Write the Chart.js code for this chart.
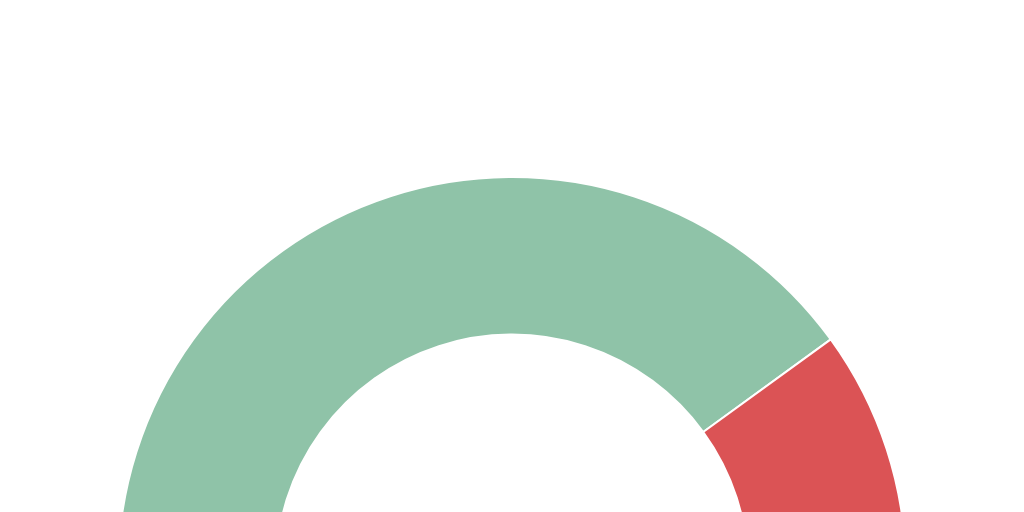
<!DOCTYPE html>
<html>
<head>
<meta charset="utf-8">
<script src="https://cdn.jsdelivr.net/npm/chart.js@4"></script>
<style>
  html, body { margin: 0; padding: 0; background: #fff; overflow: hidden; }
  #wrap { position: relative; width: 1024px; height: 572px; }
</style>
</head>
<body>
<div id="wrap"><canvas id="gauge"></canvas></div>
<script>
const labels = ['Good', 'Bad'];
const values = [80, 20];
const colors = ['#8fc3a8', '#db5355'];

document.addEventListener('DOMContentLoaded', () => {
    new Chart(document.getElementById('gauge'), {
        type: 'doughnut',
        data: {
            labels: labels,
            datasets: [{
                data: values,
                backgroundColor: colors,
                borderColor: '#ffffff',
                borderWidth: 2
            }]
        },
        options: {
            responsive: true,
            maintainAspectRatio: false,
            animation: false,
            rotation: -90,
            circumference: 180,
            cutout: '60%',
            layout: { padding: { top: 176 } },
            plugins: {
                legend: { display: false },
                tooltip: { enabled: false }
            }
        }
    });
});
</script>
</body>
</html>
